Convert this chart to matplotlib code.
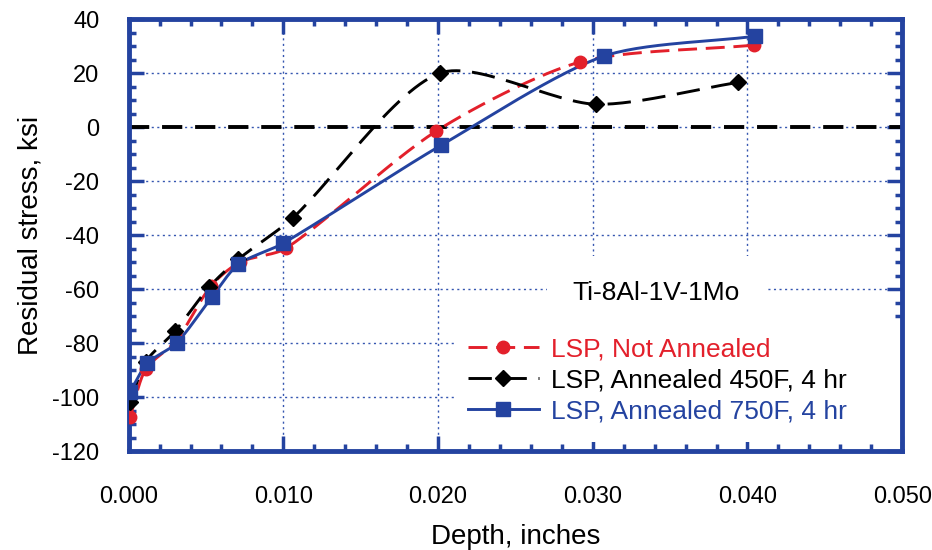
import numpy as np
import matplotlib
matplotlib.use('Agg')
from matplotlib import pyplot as plt
from matplotlib.patches import Rectangle
from matplotlib.ticker import MultipleLocator, FormatStrFormatter

plt.rcParams['font.family'] = ['Liberation Sans', 'DejaVu Sans']

# depth (inches) and residual stress (ksi)
x_not = [0.0001, 0.0011, 0.0031, 0.0053, 0.0072, 0.0102, 0.0199, 0.0292, 0.0404]
y_not = [-107.4, -89.7, -79.0, -59.0, -50.0, -44.8, -1.4, 24.2, 30.4]

x_450 = [0.0001, 0.0011, 0.0030, 0.0052, 0.0071, 0.0106, 0.0201, 0.0302, 0.0394]
y_450 = [-101.7, -86.9, -75.6, -59.3, -48.9, -33.7, 20.0, 8.5, 16.6]

x_750 = [0.0001, 0.0012, 0.0031, 0.0054, 0.0071, 0.0100, 0.0202, 0.0307, 0.0405]
y_750 = [-98.0, -87.5, -80.0, -62.8, -50.8, -43.0, -6.7, 26.3, 33.7]

labels = ['LSP, Not Annealed', 'LSP, Annealed 450F, 4 hr', 'LSP, Annealed 750F, 4 hr']
colors = ['#e3202b', '#000000', '#2443a0']

XMIN, XMAX, YMIN, YMAX = 0.0, 0.05, -120, 40


def smooth(xs, ys, n=30, k=0.8):
    # smoothed line like a spreadsheet chart (chord-length Catmull-Rom Bezier)
    sx = (XMAX - XMIN) / 775.0
    sy = (YMAX - YMIN) / 432.0
    p = np.column_stack([np.array(xs) / sx, np.array(ys) / sy])
    p = np.vstack([p[0], p, p[-1]])
    out = []
    t = np.linspace(0, 1, n)[:, None]
    for i in range(1, len(p) - 2):
        p0, p1, p2, p3 = p[i - 1], p[i], p[i + 1], p[i + 2]
        d0 = np.hypot(*(p1 - p0))
        d1 = np.hypot(*(p2 - p1))
        d2 = np.hypot(*(p3 - p2))
        c1 = p1 + k * (p2 - p0) * d1 / (3.0 * (d0 + d1)) if d0 + d1 > 0 else p1
        c2 = p2 - k * (p3 - p1) * d1 / (3.0 * (d1 + d2)) if d1 + d2 > 0 else p2
        seg = ((1 - t) ** 3) * p1 + 3 * ((1 - t) ** 2) * t * c1 + 3 * (1 - t) * t ** 2 * c2 + t ** 3 * p2
        out.append(seg if i == 1 else seg[1:])
    out = np.vstack(out)
    return out[:, 0] * sx, out[:, 1] * sy


fig = plt.figure(figsize=(9.32, 5.5), dpi=100)
ax = fig.add_axes([0.138, 0.18, 0.83, 0.785])

ax.set_xlim(XMIN, XMAX)
ax.set_ylim(YMIN, YMAX)
ax.grid(True, which='major', color='#3556b0', linestyle=(0, (1.5, 2.5)), linewidth=1.0)
ax.axhline(0, color='black', linewidth=2.8, linestyle=(0, (5.2, 3.3)), zorder=2)

# white area behind the legend hides the grid there
ax.add_patch(Rectangle((0.42, 0.02), 0.58, 0.28, transform=ax.transAxes,
                       facecolor='white', edgecolor='none', zorder=1.8))

series = [(x_not, y_not, 'o', (0, (6.5, 3)), 9),
          (x_450, y_450, 'D', (0, (8, 4)), 8.5),
          (x_750, y_750, 's', '-', 10.5)]
handles = []
for (xs, ys, mk, ls, ms), c, lab in zip(series, colors, labels):
    sxs, sys_ = smooth(xs, ys)
    ax.plot(sxs, sys_, color=c, linestyle=ls, linewidth=2.1, zorder=3)
    ax.plot(xs, ys, linestyle='none', marker=mk, color=c, markersize=ms, zorder=4)
    h, = ax.plot([], [], color=c, linestyle=ls, linewidth=2.1, marker=mk, markersize=ms)
    handles.append(h)

ax.xaxis.set_major_locator(MultipleLocator(0.01))
ax.xaxis.set_minor_locator(MultipleLocator(0.002))
ax.yaxis.set_major_locator(MultipleLocator(20))
ax.yaxis.set_minor_locator(MultipleLocator(5))
ax.xaxis.set_major_formatter(FormatStrFormatter('%.3f'))
ax.yaxis.set_major_formatter(FormatStrFormatter('%d'))

spine_c = '#2443a0'
for s in ax.spines.values():
    s.set_color(spine_c)
    s.set_linewidth(3.5)
ax.tick_params(which='both', direction='in', top=True, right=True, color=spine_c)
ax.tick_params(which='major', length=11, width=2.5, labelsize=17)
ax.tick_params(which='minor', length=5, width=2.5)
ax.tick_params(axis='y', which='major', pad=21)
ax.tick_params(axis='x', which='major', pad=25)

ax.set_xlabel('Depth, inches', fontsize=20, labelpad=12)
ax.set_ylabel('Residual stress, ksi', fontsize=20, labelpad=6)

ax.text(0.0341, -61.5, 'Ti-8Al-1V-1Mo', fontsize=19, ha='center', va='center', zorder=5,
        bbox=dict(facecolor='white', edgecolor='none', pad=18))

leg = ax.legend(handles, labels, loc='center left', bbox_to_anchor=(0.428, 0.164),
                borderaxespad=0, fontsize=19, labelcolor=colors, frameon=False,
                handlelength=2.7, handletextpad=0.45, labelspacing=0.26, borderpad=0.3)
leg.set_zorder(6)

fig.savefig('out.png', dpi=100)
